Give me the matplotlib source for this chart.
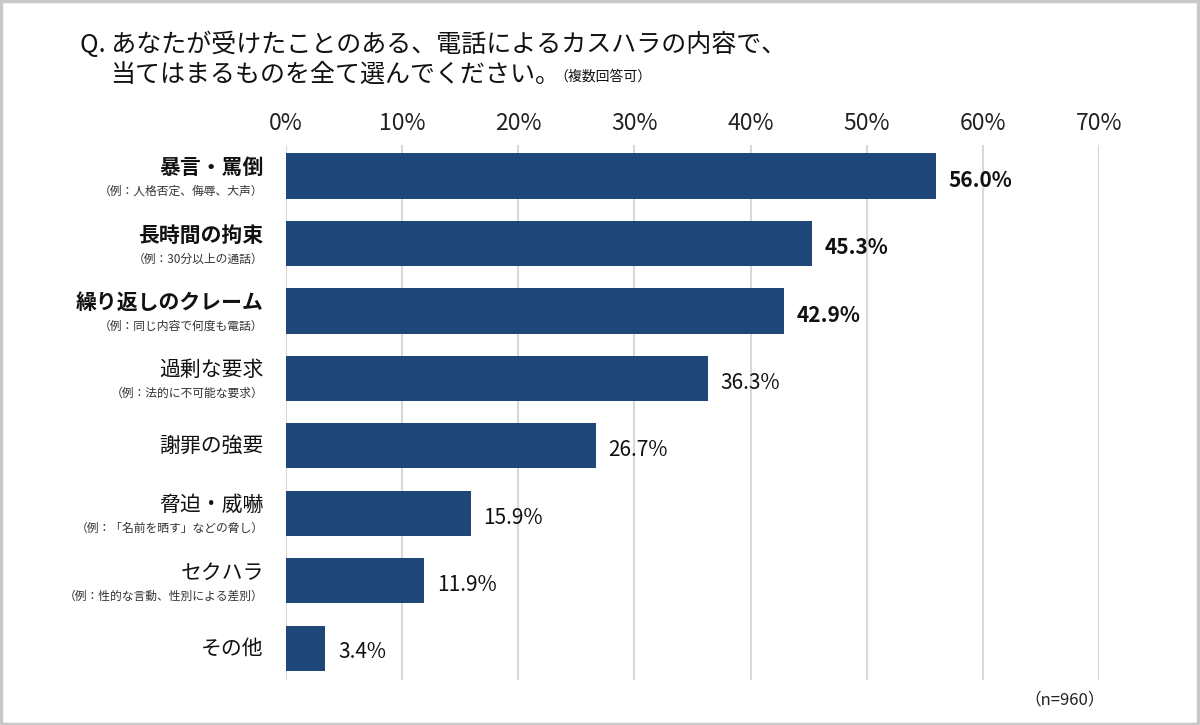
import matplotlib
matplotlib.use("Agg")
import matplotlib.pyplot as plt
from matplotlib.patches import Rectangle

plt.rcParams['font.family'] = ['Noto Sans CJK JP', 'DejaVu Sans']

categories = ["暴言・罵倒", "長時間の拘束", "繰り返しのクレーム", "過剰な要求",
              "謝罪の強要", "脅迫・威嚇", "セクハラ", "その他"]
examples = ["（例：人格否定、侮辱、大声）", "（例：30分以上の通話）",
            "（例：同じ内容で何度も電話）", "（例：法的に不可能な要求）",
            "", "（例：「名前を晒す」などの脅し）",
            "（例：性的な言動、性別による差別）", ""]
values = [56.0, 45.3, 42.9, 36.3, 26.7, 15.9, 11.9, 3.4]
bold_top = 3
xticks = [0, 10, 20, 30, 40, 50, 60, 70]

bar_color = '#1f4878'
grid_color = '#d9d9d9'

fig = plt.figure(figsize=(12, 7.25), dpi=100)
ax = fig.add_axes([0.2383, 0.0621, 0.6775, 0.7379])

ypos = list(range(len(categories)))
ax.barh(ypos, values, height=0.67, color=bar_color, zorder=3)
ax.set_xlim(0, 70)
ax.set_ylim(7.47, -0.46)

for x in xticks:
    ax.axvline(x, color=grid_color, linewidth=1.5, zorder=1)

ax.xaxis.tick_top()
ax.set_xticks(xticks)
ax.set_xticklabels([f"{x}%" for x in xticks], fontsize=16.5, color='#222222')
ax.tick_params(axis='x', length=0, pad=7)
ax.set_yticks([])
for s in ax.spines.values():
    s.set_visible(False)

for i, (cat, ex, v) in enumerate(zip(categories, examples, values)):
    w = 'bold' if i < bold_top else 'normal'
    if ex:
        ax.annotate(cat, xy=(0, i), xytext=(-16, 6), textcoords='offset points',
                    ha='right', va='center', fontsize=15, fontweight=w, color='#111111')
        ax.annotate(ex, xy=(0, i), xytext=(-16, -11), textcoords='offset points',
                    ha='right', va='center', fontsize=8.5, color='#333333')
    else:
        ax.annotate(cat, xy=(0, i), xytext=(-16, 0), textcoords='offset points',
                    ha='right', va='center', fontsize=15, fontweight=w, color='#111111')
    ax.annotate(f"{v:.1f}%", xy=(v, i), xytext=(9, -3), textcoords='offset points',
                ha='left', va='center', fontsize=15, fontweight=w, color='#111111')

fig.text(80 / 1200, 1 - 45 / 725, "Q. あなたが受けたことのある、電話によるカスハラの内容で、",
         fontsize=18, va='center', ha='left', color='#111111')
fig.text(110 / 1200, 1 - 75 / 725, "当てはまるものを全て選んでください。",
         fontsize=18, va='center', ha='left', color='#111111')
fig.text(554 / 1200, 1 - 77 / 725, "（複数回答可）",
         fontsize=10, va='center', ha='left', color='#111111')
fig.text(1065 / 1200, 1 - 700 / 725, "（n=960）", fontsize=12, va='center',
         ha='center', color='#222222')

fig.patches.append(Rectangle((0.001, 0.002), 0.997, 0.996, transform=fig.transFigure,
                             fill=False, edgecolor='#c8c8c8', linewidth=2.5))

fig.savefig("out.png", dpi=100)
